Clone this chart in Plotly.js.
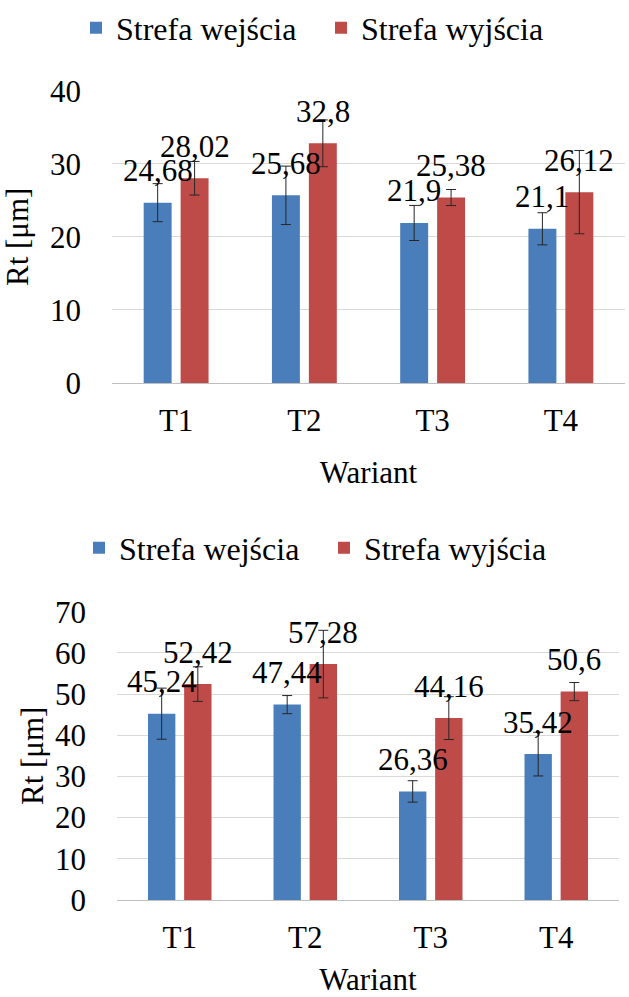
<!DOCTYPE html>
<html><head><meta charset="utf-8">
<script src="https://cdn.plot.ly/plotly-3.0.1.min.js"></script>
<style>html,body{margin:0;padding:0;background:#fff}</style>
</head><body><div id="chart" style="width:629px;height:997px"></div>
<script>
const categories = ['T1', 'T2', 'T3', 'T4'];
const seriesNames = ['Strefa wejścia', 'Strefa wyjścia'];
const topEntry = [24.68, 25.68, 21.9, 21.1];
const topExit = [28.02, 32.8, 25.38, 26.12];
const topEntryErr = [2.6, 4.0, 2.4, 2.2];
const topExitErr = [2.3, 3.2, 1.1, 5.7];
const botEntry = [45.24, 47.44, 26.36, 35.42];
const botExit = [52.42, 57.28, 44.16, 50.6];
const botEntryErr = [6.2, 2.2, 2.6, 5.3];
const botExitErr = [4.2, 8.2, 5.2, 2.2];
const topTicks = [0, 10, 20, 30, 40];
const botTicks = [0, 10, 20, 30, 40, 50, 60, 70];
const yTitle = 'Rt [μm]';
const xTitle = 'Wariant';

const colors = ['#4A7EBB', '#BE4B48'];
const W = 629, H = 997;
const FS = 31;
const FAMILY = 'Liberation Serif';
const fmt = v => String(v).replace('.', ',');

function barTrace(y, err, s, xa, ya, leg) {
  return {
    type: 'bar', x: categories, y: y, name: seriesNames[s],
    xaxis: xa, yaxis: ya, legend: leg,
    marker: {color: colors[s]},
    error_y: {type: 'data', array: err, visible: true, color: '#262626', thickness: 1, width: 5},
    hoverinfo: 'skip'
  };
}
const data = [
  barTrace(topEntry, topEntryErr, 0, 'x', 'y', 'legend'),
  barTrace(topExit, topExitErr, 1, 'x', 'y', 'legend'),
  barTrace(botEntry, botEntryErr, 0, 'x2', 'y2', 'legend2'),
  barTrace(botExit, botExitErr, 1, 'x2', 'y2', 'legend2')
];

const annotations = [];
function addLabels(vals, s, xr, yr, shift) {
  vals.forEach((v, i) => annotations.push({
    x: categories[i], y: v, xref: xr, yref: yr, text: fmt(v), showarrow: false,
    xshift: (s === 0 ? -1 : 1) * shift, yshift: 32, yanchor: 'middle',
    font: {family: FAMILY, size: FS, color: '#000'}
  }));
}
addLabels(topEntry, 0, 'x', 'y', 18.5);
addLabels(topExit, 1, 'x', 'y', 18.5);
addLabels(botEntry, 0, 'x2', 'y2', 18);
addLabels(botExit, 1, 'x2', 'y2', 18);

const tf = {family: FAMILY, size: FS, color: '#000'};
const lf = {family: FAMILY, size: 32, color: '#000'};
const xCommon = {
  type: 'category', showgrid: false, zeroline: false, showline: false, ticks: '',
  ticklabelstandoff: 16, tickfont: tf, fixedrange: true
};
const yCommon = {
  showgrid: true, gridcolor: '#D9D9D9', gridwidth: 1, zeroline: true, zerolinecolor: '#BFBFBF',
  zerolinewidth: 1, showline: false, ticks: '', ticklabelstandoff: 30, tickfont: tf, fixedrange: true
};

const layout = {
  width: W, height: H, margin: {l: 0, r: 0, t: 0, b: 0},
  paper_bgcolor: '#fff', plot_bgcolor: '#fff',
  font: {family: FAMILY, size: FS, color: '#000'},
  barmode: 'group', bargap: 0.424, bargroupgap: 0.243,
  showlegend: true,
  xaxis: Object.assign({}, xCommon, {domain: [112 / W, 625 / W], anchor: 'y',
    title: {text: xTitle, standoff: 24, font: tf}}),
  yaxis: Object.assign({}, yCommon, {domain: [1 - 383 / H, 1 - 90.7 / H], anchor: 'x', range: [0, 40],
    tickvals: topTicks, ticktext: topTicks.map(String),
    title: {text: yTitle, standoff: 14, font: tf}}),
  xaxis2: Object.assign({}, xCommon, {domain: [117 / W, 619 / W], anchor: 'y2',
    title: {text: xTitle, standoff: 14, font: tf}}),
  yaxis2: Object.assign({}, yCommon, {domain: [1 - 900 / H, 1 - 611.7 / H], anchor: 'x2', range: [0, 70],
    tickvals: botTicks, ticktext: botTicks.map(String),
    title: {text: yTitle, standoff: 2, font: tf}}),
  legend: {orientation: 'h', x: 76 / W, y: 1 - 28 / H, xanchor: 'left', yanchor: 'middle',
    entrywidth: 200, entrywidthmode: 'pixels',
    font: lf, bgcolor: 'rgba(0,0,0,0)', itemclick: false, itemdoubleclick: false},
  legend2: {orientation: 'h', x: 79 / W, y: 1 - 548 / H, xanchor: 'left', yanchor: 'middle',
    entrywidth: 200, entrywidthmode: 'pixels',
    font: lf, bgcolor: 'rgba(0,0,0,0)', itemclick: false, itemdoubleclick: false},
  annotations: annotations
};

Plotly.newPlot('chart', data, layout, {staticPlot: true, displayModeBar: false});
</script>
</body></html>
